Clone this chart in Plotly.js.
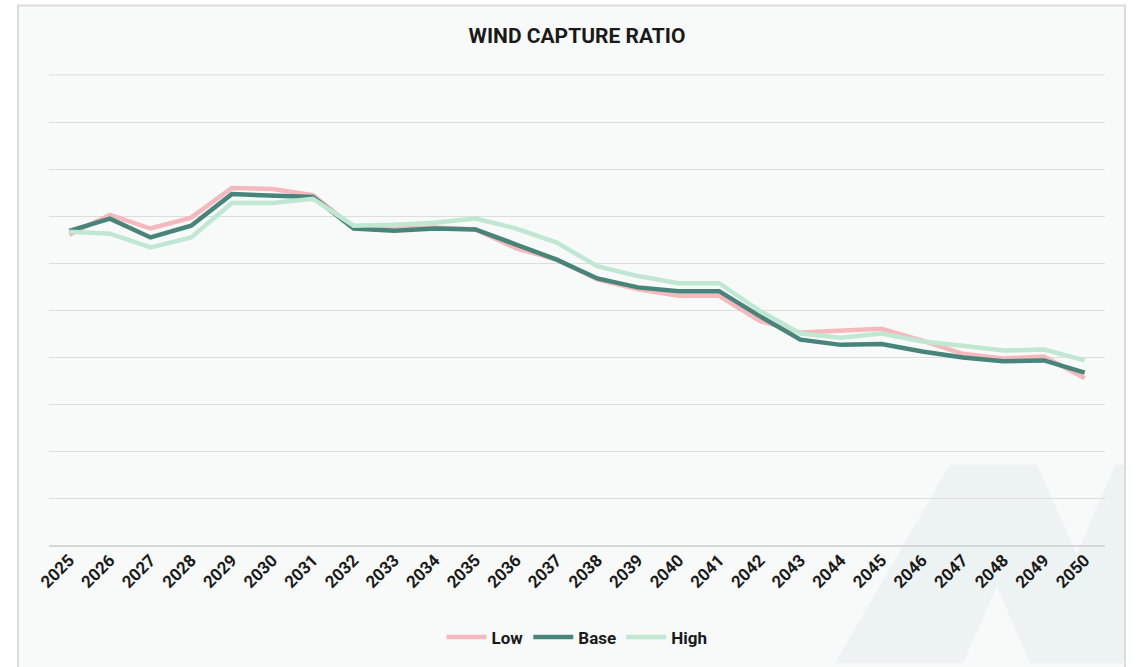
<!DOCTYPE html>
<html>
<head>
<meta charset="utf-8">
<script src="https://cdn.plot.ly/plotly-3.0.1.min.js"></script>
<style>
  html, body { margin: 0; padding: 0; background: #ffffff; }
  #chart { width: 1138px; height: 667px; }
</style>
</head>
<body>
<div id="chart"></div>
<script>
const years = ['2025','2026','2027','2028','2029','2030','2031','2032','2033','2034','2035','2036','2037',
               '2038','2039','2040','2041','2042','2043','2044','2045','2046','2047','2048','2049','2050'];

const lowValues  = [0.661,0.703,0.674,0.697,0.760,0.758,0.745,0.676,0.674,0.676,0.672,0.632,0.608,
                    0.566,0.545,0.531,0.531,0.478,0.453,0.457,0.461,0.436,0.408,0.398,0.402,0.356];
const baseValues = [0.669,0.695,0.655,0.680,0.747,0.745,0.741,0.674,0.669,0.674,0.672,0.640,0.608,
                    0.568,0.549,0.541,0.541,0.488,0.438,0.427,0.429,0.413,0.400,0.392,0.394,0.368];
const highValues = [0.667,0.663,0.634,0.655,0.728,0.728,0.737,0.680,0.682,0.686,0.695,0.674,0.644,
                    0.594,0.573,0.558,0.558,0.499,0.451,0.442,0.451,0.434,0.425,0.415,0.417,0.394];

const seriesNames = ['Low', 'Base', 'High'];

// ---- layout geometry (plot area in pixels) ----
const W = 1138, H = 667;
const L = 49, R = 1105, T = 74, B = 549;
const px = x => (x - L) / (R - L);
const py = y => (B - y) / (B - T);
function poly(points) {
  return 'M ' + points.map(p => px(p[0]).toFixed(4) + ',' + py(p[1]).toFixed(4)).join(' L ') + ' Z';
}

const FONT = 'Roboto, "Liberation Sans", sans-serif';
const colors = ['#f5b8bd', '#478479', '#bfe7d2'];

const traces = [lowValues, baseValues, highValues].map((vals, i) => ({
  type: 'scatter',
  mode: 'lines',
  name: seriesNames[i],
  x: years,
  y: vals,
  line: { color: colors[i], width: 4.5 }
}));

const bg = '#f8fafa';
const wm = '#edf3f3';

const shapes = [
  // panel frame
  { type: 'rect', xref: 'paper', yref: 'paper', layer: 'below',
    x0: px(18), x1: px(1125), y0: py(672), y1: py(5),
    fillcolor: bg, line: { color: '#dcdcdc', width: 2 } },
  // watermark
  { type: 'path', xref: 'paper', yref: 'paper', layer: 'below',
    path: poly([[835,667],[950,467],[1037,467],[1125,667]]),
    fillcolor: wm, line: { width: 0 } },
  { type: 'path', xref: 'paper', yref: 'paper', layer: 'below',
    path: poly([[963,667],[997,590],[1030,667]]),
    fillcolor: bg, line: { width: 0 } },
  { type: 'path', xref: 'paper', yref: 'paper', layer: 'below',
    path: poly([[1030,667],[1115,467],[1124,467],[1124,667]]),
    fillcolor: wm, line: { width: 0 } },
  // top gridline (at the range edge)
  { type: 'line', xref: 'paper', yref: 'y', layer: 'below',
    x0: 0, x1: 1, y0: 1.0, y1: 1.0,
    line: { color: '#dddddd', width: 1 } }
];

const layout = {
  width: W,
  height: H,
  margin: { l: L, r: W - R, t: T, b: H - B, pad: 0 },
  paper_bgcolor: '#ffffff',
  plot_bgcolor: 'rgba(0,0,0,0)',
  font: { family: FONT, color: '#1a1a1a' },
  title: {
    text: '<b>WIND CAPTURE RATIO</b>',
    font: { family: FONT, size: 21, color: '#1a1a1a' },
    x: 0.5, xanchor: 'center', xref: 'paper',
    y: 1 - 36 / H, yanchor: 'middle'
  },
  xaxis: {
    type: 'category',
    range: [-0.5, years.length - 0.5],
    tickangle: -45,
    tickfont: { family: FONT, size: 17, color: '#1a1a1a', weight: 'bold' },
    showgrid: false,
    showline: false,
    ticks: '',
    ticklen: 0,
    automargin: false
  },
  yaxis: {
    range: [0, 1.002],
    tickvals: [0,0.1,0.2,0.3,0.4,0.5,0.6,0.7,0.8,0.9,1.0],
    showticklabels: false,
    showgrid: true,
    gridcolor: '#dddddd',
    gridwidth: 1,
    zeroline: true,
    zerolinecolor: '#d6d6d6',
    zerolinewidth: 2,
    ticks: '',
    automargin: false
  },
  showlegend: true,
  legend: {
    orientation: 'h',
    x: 0.5, xanchor: 'center',
    y: py(641), yanchor: 'middle',
    font: { family: FONT, size: 17, color: '#1a1a1a', weight: 'bold' },
    bgcolor: 'rgba(0,0,0,0)',
    itemwidth: 40
  },
  shapes: shapes
};

Plotly.newPlot('chart', traces, layout, { displayModeBar: false, staticPlot: true });
</script>
</body>
</html>
